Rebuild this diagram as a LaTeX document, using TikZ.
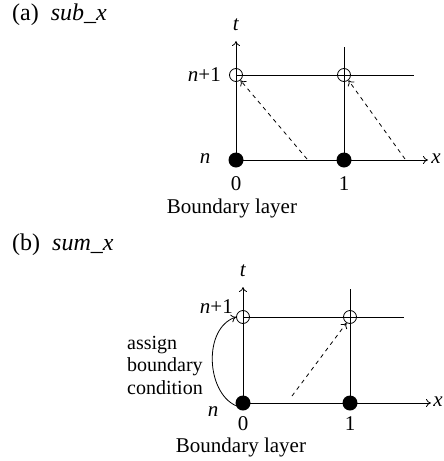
\documentclass[tikz,border=0pt]{standalone}
\usepackage{fontspec}
\setmainfont{Liberation Serif}
\usetikzlibrary{arrows.meta}
\begin{document}
\begin{tikzpicture}[x=1pt,y=-1pt,
  every node/.style={font=\fontsize{21}{22}\selectfont, inner sep=0pt},
  gridline/.style={line width=0.8pt},
  axis/.style={line width=0.8pt, -{To[length=5pt,width=8pt]}},
  dasharrow/.style={line width=0.8pt, dash pattern=on 4pt off 4pt, -{To[length=5pt,width=8pt]}},
  solidpt/.style={circle, fill=black, minimum size=15pt, inner sep=0pt},
  openpt/.style={circle, draw, line width=0.8pt, minimum size=13pt, inner sep=0pt},
  lbl/.style={font=\fontsize{24}{26}\selectfont}]
\useasboundingbox (0,0) rectangle (444,461);

% ---------- panel (a) ----------
\node[lbl, anchor=west] (ta) at (12,15) {(a)\enspace\textit{sub\_x}};
\coordinate (a00) at (236,160);
\coordinate (a10) at (344,160);
\coordinate (a01) at (236,75);
\coordinate (a11) at (344,75);
\coordinate (atop) at (236,41);
\coordinate (a1top) at (344,47);
\coordinate (aright) at (414,75);
\coordinate (axend) at (428,160);
\draw[gridline] (a01) -- (aright);
\draw[gridline] (a10) -- (a1top);
\draw[axis] (a00) -- (atop);
\draw[axis] (a00) -- (axend);
\node[solidpt] (fa0) at (a00) {};
\node[solidpt] (fa1) at (a10) {};
\node[openpt] (oa0) at (a01) {};
\node[openpt] (oa1) at (a11) {};
\coordinate (da0) at (307,159);
\coordinate (da1) at (405,159);
\draw[dasharrow] (da0) -- (oa0.-50);
\draw[dasharrow] (da1) -- (oa1.-50);
\node (lta) at (236,25) {\textit{t}};
\node (lxa) at (436,159) {\textit{x}};
\node[anchor=east] (lnpa) at (221,75) {\textit{n}+1};
\node (lna) at (205,159) {\textit{n}};
\node (l0a) at (236,184) {0};
\node (l1a) at (344,184) {1};
\node (bla) at (232,208) {Boundary layer};

% ---------- panel (b) ----------
\node[lbl, anchor=west] (tb) at (12,245) {(b)\enspace\textit{sum\_x}};
\coordinate (b00) at (243,403);
\coordinate (b10) at (350,403);
\coordinate (b01) at (243,317);
\coordinate (b11) at (350,317);
\coordinate (btop) at (243,287);
\coordinate (b1top) at (350,289);
\coordinate (bright) at (404,317);
\coordinate (bxend) at (431,403);
\draw[gridline] (b01) -- (bright);
\draw[gridline] (b10) -- (b1top);
\draw[axis] (b00) -- (btop);
\draw[axis] (b00) -- (bxend);
\node[solidpt] (fb0) at (b00) {};
\node[solidpt] (fb1) at (b10) {};
\node[openpt] (ob0) at (b01) {};
\node[openpt] (ob1) at (b11) {};
\coordinate (db) at (292,396);
\draw[dasharrow] (db) -- (ob1.-120);
\draw[line width=0.8pt, -{To[length=5pt,width=8pt]}] (fb0.200) .. controls (206,392) and (203,328) .. (ob0.west);
\node (ltb) at (243,271) {\textit{t}};
\node (lxb) at (438,402) {\textit{x}};
\node[anchor=east] (lnpb) at (233,307) {\textit{n}+1};
\node (lnb) at (213,412) {\textit{n}};
\node (l0b) at (243,424) {0};
\node (l1b) at (350,424) {1};
\node (blb) at (241,447) {Boundary layer};
\node[anchor=west, align=left, font=\fontsize{20}{22.5}\selectfont] (asg) at (127,365) {assign\\boundary\\condition};
\end{tikzpicture}
\end{document}
